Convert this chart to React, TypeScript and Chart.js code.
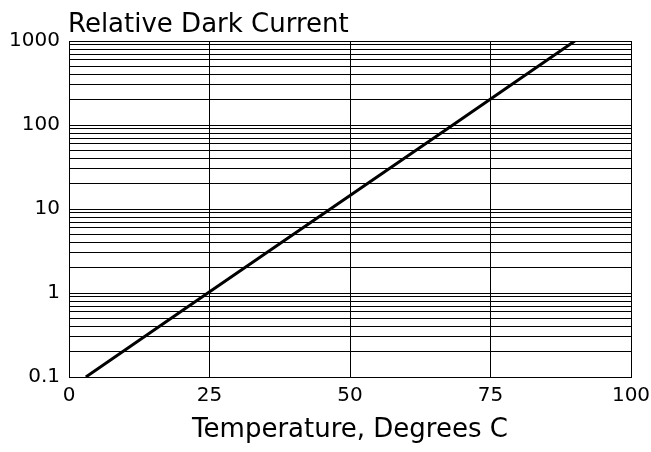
import React, { useEffect, useRef } from "react";
import { Chart, registerables } from "chart.js";

Chart.register(...registerables);

// Data
const temperatures = [3, 24.7, 46.5, 68.3, 90];
const relativeDarkCurrent = [0.1, 1, 10, 100, 1000];

// Axis ticks
const xTicks = [0, 25, 50, 75, 100];
const yDecades = [0.1, 1, 10, 100, 1000];
const yMultipliers = [1, 2, 3, 4, 5, 6, 7, 8, 9];
const yGridValues: number[] = [];
yDecades.forEach((d, i) => {
  if (i === yDecades.length - 1) {
    yGridValues.push(d);
  } else {
    yMultipliers.forEach((m) => yGridValues.push(Number((d * m).toPrecision(3))));
  }
});

const chartTitle = "Relative Dark Current";
const xTitle = "Temperature, Degrees C";
const FONT = "'DejaVu Sans', sans-serif";

const titlePlugin = {
  id: "topLeftTitle",
  afterDraw(chart: any) {
    const { ctx, chartArea } = chart;
    ctx.save();
    ctx.fillStyle = "#000";
    ctx.font = `26px ${FONT}`;
    ctx.textAlign = "left";
    ctx.textBaseline = "alphabetic";
    ctx.fillText(chartTitle, chartArea.left - 1, 32);
    ctx.restore();
  },
};

export default function App() {
  const ref = useRef<HTMLCanvasElement | null>(null);

  useEffect(() => {
    if (!ref.current) return;
    const chart = new Chart(ref.current, {
      type: "line",
      data: {
        datasets: [
          {
            data: temperatures.map((t, i) => ({ x: t, y: relativeDarkCurrent[i] })),
            borderColor: "#000",
            borderWidth: 3,
            pointRadius: 0,
            fill: false,
            tension: 0,
          },
        ],
      },
      options: {
        animation: false,
        responsive: false,
        layout: { padding: { top: 41, right: 20, bottom: 0, left: 0 } },
        plugins: {
          legend: { display: false },
          tooltip: { enabled: false },
          title: { display: false },
        },
        scales: {
          x: {
            type: "linear",
            min: 0,
            max: 100,
            afterBuildTicks: (scale: any) => {
              scale.ticks = xTicks.map((v) => ({ value: v }));
            },
            afterFit: (scale: any) => {
              scale.height = 75;
              scale.paddingRight = 0;
              scale.paddingLeft = 0;
            },
            grid: { color: "#000", lineWidth: 1, drawTicks: false },
            border: { display: true, color: "#000", width: 1 },
            ticks: {
              autoSkip: false,
              maxRotation: 0,
              padding: 7,
              color: "#000",
              font: { family: FONT, size: 20 },
              callback: (v: any) => String(v),
            },
            title: {
              display: true,
              text: xTitle,
              color: "#000",
              font: { family: FONT, size: 26 },
              padding: { top: 0, bottom: 6 },
            },
          },
          y: {
            type: "logarithmic",
            min: 0.1,
            max: 1000,
            afterBuildTicks: (scale: any) => {
              scale.ticks = yGridValues.map((v) => ({ value: v }));
            },
            afterFit: (scale: any) => {
              scale.width = 69;
            },
            grid: { color: "#000", lineWidth: 1, drawTicks: false },
            border: { display: true, color: "#000", width: 1 },
            ticks: {
              autoSkip: false,
              padding: 9,
              color: "#000",
              font: { family: FONT, size: 20 },
              callback: (v: any) => {
                const n = Number(v);
                return yDecades.some((d) => Math.abs(d - n) < 1e-9) ? String(n) : "";
              },
            },
          },
        },
      },
      plugins: [titlePlugin],
    });
    return () => chart.destroy();
  }, []);

  return (
    <div style={{ position: "absolute", left: 0, top: 0, width: 651, height: 452, background: "#fff" }}>
      <canvas ref={ref} width={651} height={452} />
    </div>
  );
}
